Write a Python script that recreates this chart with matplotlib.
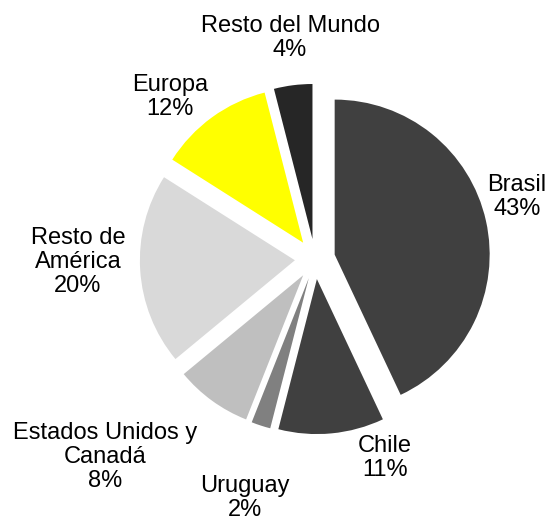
import numpy as np
import matplotlib.pyplot as plt

plt.rcParams['font.family'] = ['Liberation Sans', 'DejaVu Sans']

# datos (sentido horario desde arriba)
regiones = ['Brasil', 'Chile', 'Uruguay', 'Estados Unidos y\nCanadá',
            'Resto de\nAmérica', 'Europa', 'Resto del Mundo']
porcentajes = [43, 11, 2, 8, 20, 12, 4]
colores = ['#404040', '#404040', '#808080', '#bfbfbf', '#d9d9d9', '#ffff00', '#262626']

# posicion de las etiquetas (unidades del radio)
pos_etiquetas = [(1.303, 0.40), (0.452, -1.284), (-0.452, -1.542), (-1.355, -1.277),
                 (-1.529, -0.019), (-0.935, 1.045), (-0.161, 1.426)]

fig = plt.figure(figsize=(5.48, 5.19), dpi=100)
ax = fig.add_axes([0, 0, 1, 1])

ax.pie(porcentajes, colors=colores, startangle=90, counterclock=False,
       explode=[0.13] * len(porcentajes), radius=1.0,
       wedgeprops=dict(linewidth=0))

for reg, p, (x, y) in zip(regiones, porcentajes, pos_etiquetas):
    ax.text(x, y, '%s\n%d%%' % (reg, p), ha='center', va='center',
            fontsize=17, linespacing=1.1, color='black')

ax.set_xlim(-315 / 155, (548 - 315) / 155)
ax.set_ylim(-260 / 155, 259 / 155)
ax.axis('off')

fig.savefig('out.png', dpi=100)
